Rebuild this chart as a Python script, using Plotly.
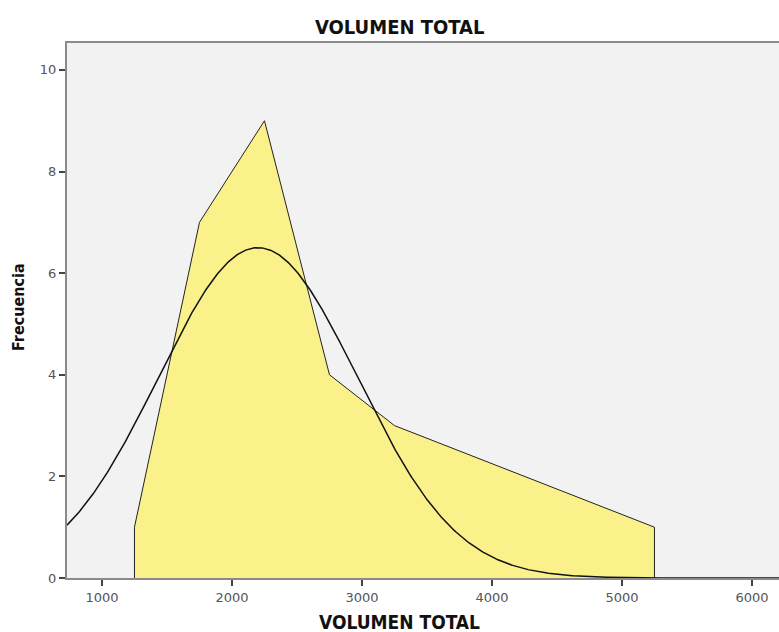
import numpy as np
import plotly.graph_objects as go

# Frequency polygon: bin midpoints and counts
bin_mid = [1250, 1750, 2250, 2750, 3250, 5250]
freq = [1, 7, 9, 4, 3, 1]
bin_width = 500

# Fitted normal curve parameters
n_obs = 25
mean_vol = 2200
sd_vol = 767

x_ticks = [1000, 2000, 3000, 4000, 5000, 6000]
y_ticks = [0, 2, 4, 6, 8, 10]

W, H = 779, 632
L, T, B, R = 67, 43, 54, 0
x_range = [731, 6208]
y_range = [0, 10.53]

poly_x = [bin_mid[0]] + bin_mid + [bin_mid[-1]]
poly_y = [0] + freq + [0]

xc = np.linspace(x_range[0], x_range[1], 600)
yc = n_obs * bin_width / (sd_vol * np.sqrt(2 * np.pi)) * np.exp(-0.5 * ((xc - mean_vol) / sd_vol) ** 2)

fig = go.Figure()
fig.add_trace(go.Scatter(
    x=poly_x, y=poly_y, mode="lines", fill="toself",
    fillcolor="#fbf18a", line=dict(color="#222222", width=1),
    hoverinfo="skip", showlegend=False,
))
fig.add_trace(go.Scatter(
    x=xc, y=yc, mode="lines", line=dict(color="#111111", width=1.5),
    hoverinfo="skip", showlegend=False,
))

font_fam = "DejaVu Sans Condensed, DejaVu Sans, sans-serif"
pw = W - L - R
ph = H - T - B

fig.update_layout(
    width=W, height=H,
    margin=dict(l=L, r=R, t=T, b=B, pad=0),
    paper_bgcolor="white", plot_bgcolor="#f2f2f2",
    font=dict(family="DejaVu Sans, sans-serif", size=13, color="#555555"),
    xaxis=dict(
        range=x_range, tickvals=x_ticks, showgrid=False, zeroline=False,
        showline=True, linecolor="#8a8a8a", linewidth=2, mirror=True,
        ticks="outside", ticklen=6, tickcolor="#444444", tickwidth=1.5,
        tickfont=dict(size=13, color="#555555"),
    ),
    yaxis=dict(
        range=y_range, tickvals=y_ticks, showgrid=False, zeroline=False,
        showline=True, linecolor="#8a8a8a", linewidth=2,
        ticks="outside", ticklen=6, tickcolor="#444444", tickwidth=1.5,
        tickfont=dict(size=13, color="#555555"),
    ),
    annotations=[
        dict(text="<b>VOLUMEN TOTAL</b>", xref="paper", yref="paper",
             x=(399 - L) / pw, y=1 + (T - 27) / ph, xanchor="center", yanchor="middle",
             showarrow=False, font=dict(family=font_fam, size=20, color="#111111")),
        dict(text="<b>VOLUMEN TOTAL</b>", xref="paper", yref="paper",
             x=(399 - L) / pw, y=-(622 - (H - B)) / ph, xanchor="center", yanchor="middle",
             showarrow=False, font=dict(family=font_fam, size=19, color="#111111")),
        dict(text="<b>Frecuencia</b>", xref="paper", yref="paper",
             x=(18 - L) / pw, y=(H - B - 307) / ph, xanchor="center", yanchor="middle",
             textangle=-90, showarrow=False,
             font=dict(family=font_fam, size=16, color="#111111")),
    ],
)

fig.write_html("out.html")
